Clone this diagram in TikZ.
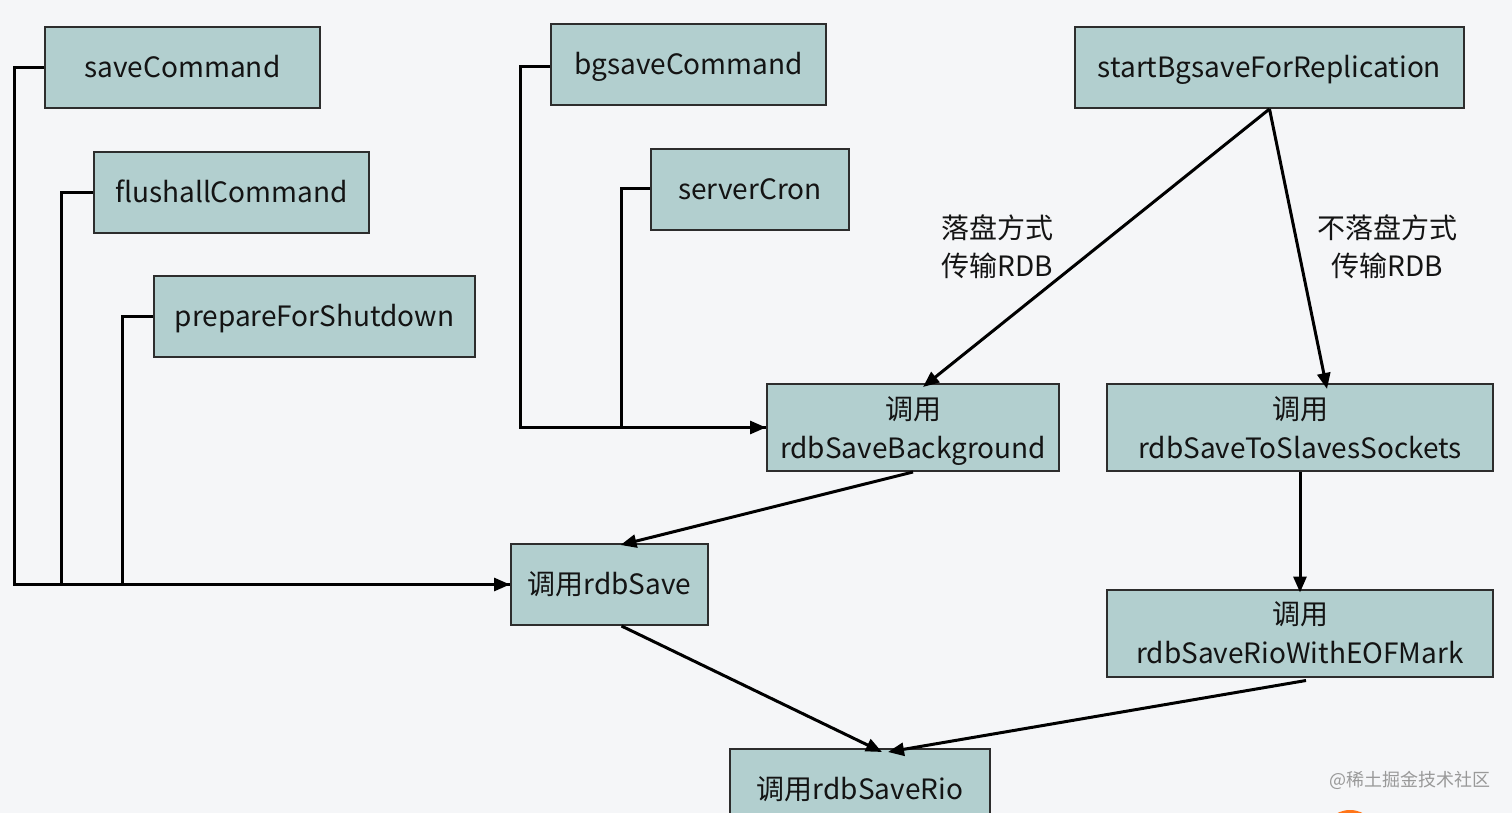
\documentclass[tikz,border=0pt]{standalone}
\usepackage{fontspec}
\setmainfont{Noto Sans CJK SC}
\usetikzlibrary{arrows.meta}

\definecolor{pagebg}{RGB}{245,246,248}
\definecolor{boxfill}{RGB}{178,207,207}
\definecolor{boxline}{RGB}{45,45,45}
\definecolor{inkcol}{RGB}{20,20,20}

\tikzset{
	fnbox/.style={draw=boxline, line width=1pt, fill=boxfill, text=inkcol, inner sep=0pt,
		minimum height=40.5pt, align=center, font=\fontsize{14}{19.5}\selectfont},
	oneline/.style={text height=10.3pt, text depth=0pt},
	wire/.style={line width=1.5pt, draw=black},
	wirearrow/.style={wire, -{Triangle[length=8pt,width=6.5pt]}},
	note/.style={text=inkcol, align=center, inner sep=0pt, font=\fontsize{14}{19}\selectfont},
}

\begin{document}
\begin{tikzpicture}[x=0.5pt,y=0.5pt,yscale=-1,xscale=1]
	%set diagram area: 1512 x 813
	\useasboundingbox (0,0) rectangle (1512,813);
	\clip (0,0) rectangle (1512,813);
	\fill[pagebg] (0,0) rectangle (1512,813);
	
	% Callers of rdbSave
	\node[fnbox, oneline, minimum width=137.5pt] (savecmd) at (182.5,67.5) {saveCommand};
	\node[fnbox, oneline, minimum width=137.5pt] (flushcmd) at (231.5,192.5) {flushallCommand};
	\node[fnbox, oneline, minimum width=160.5pt] (shutdown) at (314.5,316.5) {prepareForShutdown};
	
	% Callers of rdbSaveBackground
	\node[fnbox, oneline, minimum width=137.5pt] (bgsavecmd) at (688.5,64.5) {bgsaveCommand};
	\node[fnbox, oneline, minimum width=99pt] (cron) at (750,189.5) {serverCron};
	
	% Replication
	\node[fnbox, oneline, minimum width=194.5pt] (repl) at (1269.5,67.5) {startBgsaveForReplication};
	
	% Middle row
	\node[fnbox, text depth=0pt, minimum width=146pt, minimum height=43.5pt] (bgsave) at (913,427.5) {调用\\rdbSaveBackground};
	\node[fnbox, minimum width=193pt, minimum height=43.5pt] (sockets) at (1300,427.5) {调用\\rdbSaveToSlavesSockets};
	\node[fnbox, oneline, minimum width=98.5pt] (rdbsave) at (609.5,584.5) {调用rdbSave};
	\node[fnbox, minimum width=193pt, minimum height=43.5pt] (eofmark) at (1300,633) {调用\\rdbSaveRioWithEOFMark};
	
	% Bottom
	\node[fnbox, oneline, minimum width=130pt] (rio) at (860,789.5) {调用rdbSaveRio};
	
	% Straight Lines: left group
	\draw[wirearrow] (savecmd.west) -- ++(-30,0) |- (rdbsave.west);
	\draw[wire] (flushcmd.west) -- ++(-32,0) |- (rdbsave.west);
	\draw[wire] (shutdown.west) -- ++(-31,0) |- (rdbsave.west);
	
	% Straight Lines: middle group
	\draw[wirearrow] ([yshift=1pt]bgsavecmd.west) -- ++(-30,0) |- (bgsave.west);
	\draw[wire] ([yshift=-0.5pt]cron.west) -- ++(-29,0) |- (bgsave.west);
	
	% Straight Lines: replication
	\draw[wirearrow] (repl.south) -- ([xshift=5pt,yshift=2pt]bgsave.north);
	\draw[wirearrow] (repl.south) -- ([xshift=13.5pt,yshift=3pt]sockets.north);
	\draw[wirearrow] (bgsave.south) -- ([xshift=5.5pt,yshift=1pt]rdbsave.north);
	\draw[wirearrow] (sockets.south) -- ([yshift=2pt]eofmark.north);
	\draw[wirearrow] ([xshift=6pt]rdbsave.south) -- ([xshift=11pt,yshift=2pt]rio.north);
	\draw[wirearrow] ([xshift=3pt,yshift=1.5pt]eofmark.south) -- ([xshift=14pt,yshift=2pt]rio.north);
	
	% Text Node
	\node[note] (disklbl) at (997,247) {落盘方式\\传输RDB};
	% Text Node
	\node[note] (socklbl) at (1387,247) {不落盘方式\\传输RDB};
	
	% Watermark
	\node[text=black!40, inner sep=0pt, font=\fontsize{9}{9}\selectfont] (mark) at (1410,780) {@稀土掘金技术社区};
	\fill[orange!80!red!90] (1350,838) circle (14pt);
	
\end{tikzpicture}
\end{document}
